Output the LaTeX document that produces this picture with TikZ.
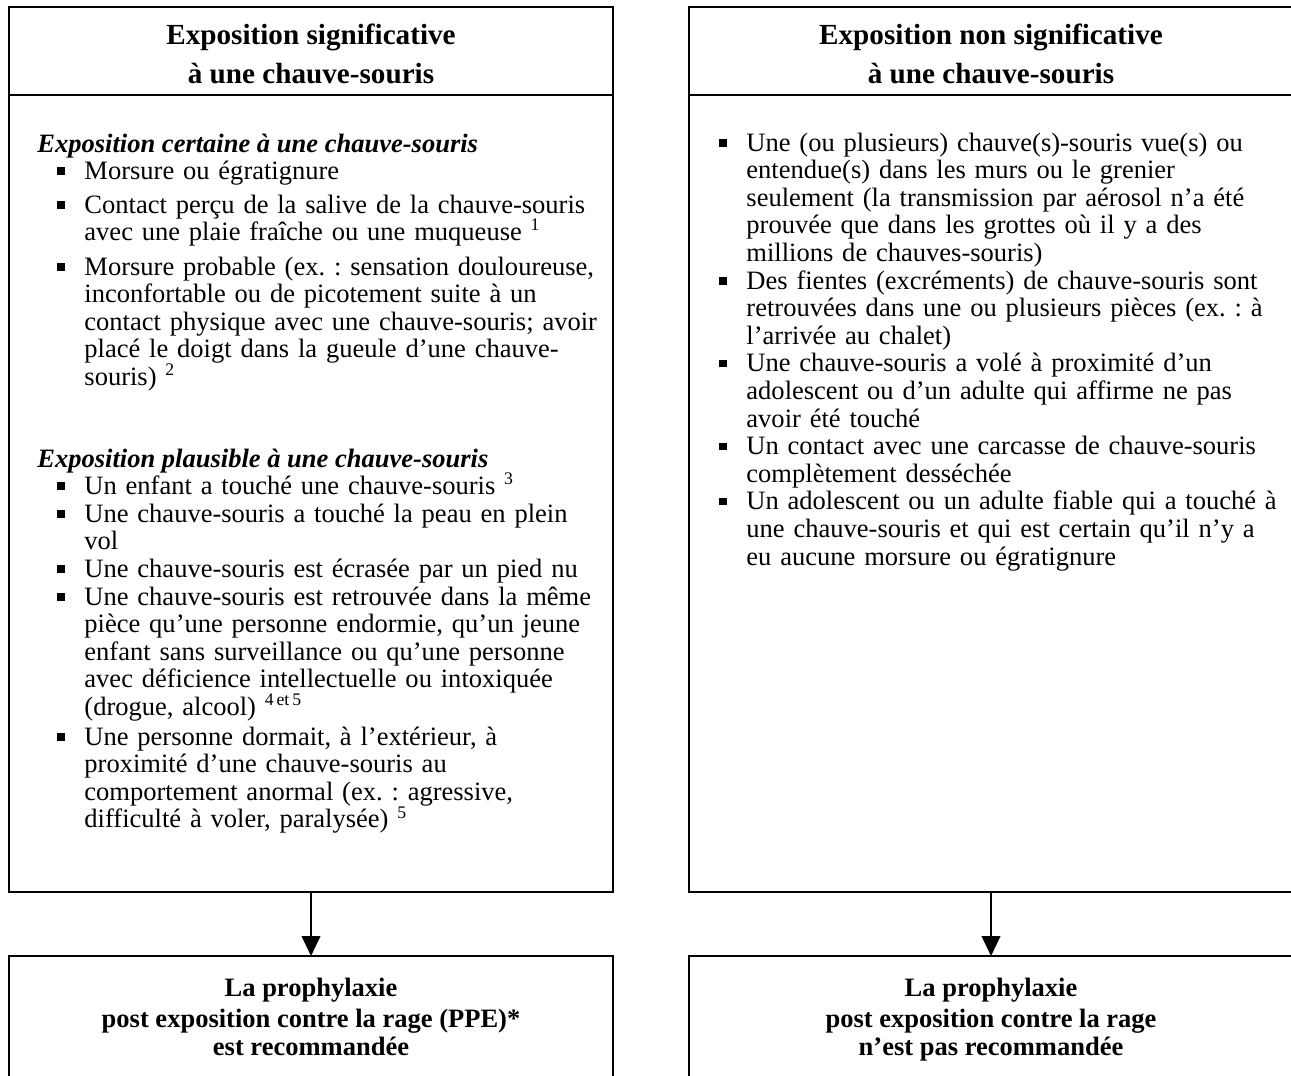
\documentclass[tikz,border=0pt]{standalone}
\usepackage{fontspec}
\setmainfont{Liberation Serif}
\usetikzlibrary{arrows.meta}
\frenchspacing
\newcommand\itm{\leavevmode\llap{\rule[2pt]{3.3pt}{3.3pt}\hspace{9pt}}}
\newcommand\fnref[1]{\textsuperscript{\fontsize{8}{8}\selectfont #1}}
\begin{document}
\begin{tikzpicture}[x=0.4525pt,y=-0.4525pt,
  frame/.style={draw, line width=1.1pt, inner sep=0, outer sep=0, minimum width=273.3pt},
  ttl/.style={font=\fontsize{13.2}{16}\selectfont\bfseries, anchor=base, inner sep=0},
  outc/.style={font=\fontsize{12}{13.6}\selectfont\bfseries, anchor=base, inner sep=0},
  body/.style={font=\fontsize{12}{12.49}\selectfont, anchor=base west, inner sep=0, text width=262pt, align=left},
  subhead/.style={font=\fontsize{12}{12.49}\selectfont\bfseries\itshape, anchor=base west, inner sep=0},
  arr/.style={-{Triangle[width=8.5pt,length=9pt]}, line width=0.55pt}]
\useasboundingbox (0,0) rectangle (1291,1075);
\clip (0,0) rectangle (1291,1075);
% frames
\node[frame, minimum height=39.82pt] (hl) at (311,51) {};
\node[frame, minimum height=39.82pt] (hr) at (991,51) {};
\node[frame, minimum height=360.64pt] (bl) at (311,493.5) {};
\node[frame, minimum height=360.64pt] (br) at (991,493.5) {};
\node[frame, minimum height=90pt] (ol) at (311,1055.4) {};
\node[frame, minimum height=90pt] (or) at (991,1055.4) {};
% arrows
\draw[arr] (bl.south) -- (ol.north);
\draw[arr] (br.south) -- (or.north);
% titles
\node[ttl] (t1a) at (311,44.5) {Exposition significative};
\node[ttl] (t1b) at (311,83) {à une chauve-souris};
\node[ttl] (t2a) at (991,44.5) {Exposition non significative};
\node[ttl] (t2b) at (991,83) {à une chauve-souris};
% left body
\node[subhead] (s1) at (37,152) {Exposition certaine à une chauve-souris};
\node[body] (i1) at (84,179) {\itm Morsure ou égratignure};
\node[body] (i2) at (84,213) {\itm Contact perçu de la salive de la chauve-souris\\avec une plaie fraîche ou une muqueuse \fnref{1}};
\node[body] (i3) at (84,275) {\itm Morsure probable (ex. : sensation douloureuse,\\inconfortable ou de picotement suite à un\\contact physique avec une chauve-souris; avoir\\placé le doigt dans la gueule d’une chauve-\\souris) \fnref{2}};
\node[subhead] (s2) at (37,467) {Exposition plausible à une chauve-souris};
\node[body] (j1) at (84,494) {\itm Un enfant a touché une chauve-souris \fnref{3}};
\node[body] (j2) at (84,522) {\itm Une chauve-souris a touché la peau en plein\\vol};
\node[body] (j3) at (84,577) {\itm Une chauve-souris est écrasée par un pied nu};
\node[body] (j4) at (84,605) {\itm Une chauve-souris est retrouvée dans la même\\pièce qu’une personne endormie, qu’un jeune\\enfant sans surveillance ou qu’une personne\\avec déficience intellectuelle ou intoxiquée\\(drogue, alcool) \fnref{4\,et\,5}};
\node[body] (j5) at (84,745) {\itm Une personne dormait, à l’extérieur, à\\proximité d’une chauve-souris au\\comportement anormal (ex. : agressive,\\difficulté à voler, paralysée) \fnref{5}};
% right body
\node[body] (r1) at (746,151) {\itm Une (ou plusieurs) chauve(s)-souris vue(s) ou\\entendue(s) dans les murs ou le grenier\\seulement (la transmission par aérosol n’a été\\prouvée que dans les grottes où il y a des\\millions de chauves-souris)};
\node[body] (r2) at (746,289) {\itm Des fientes (excréments) de chauve-souris sont\\retrouvées dans une ou plusieurs pièces (ex. : à\\l’arrivée au chalet)};
\node[body] (r3) at (746,371.8) {\itm Une chauve-souris a volé à proximité d’un\\adolescent ou d’un adulte qui affirme ne pas\\avoir été touché};
\node[body] (r4) at (746,454.6) {\itm Un contact avec une carcasse de chauve-souris\\complètement desséchée};
\node[body] (r5) at (746,509.8) {\itm Un adolescent ou un adulte fiable qui a touché à\\une chauve-souris et qui est certain qu’il n’y a\\eu aucune morsure ou égratignure};
% outcomes
\node[outc] (o1a) at (311,996) {La prophylaxie};
\node[outc] (o1b) at (311,1027) {post exposition contre la rage (PPE)*};
\node[outc] (o1c) at (311,1055) {est recommandée};
\node[outc] (o2a) at (991,996) {La prophylaxie};
\node[outc] (o2b) at (991,1027) {post exposition contre la rage};
\node[outc] (o2c) at (991,1055) {n’est pas recommandée};
\end{tikzpicture}
\end{document}
